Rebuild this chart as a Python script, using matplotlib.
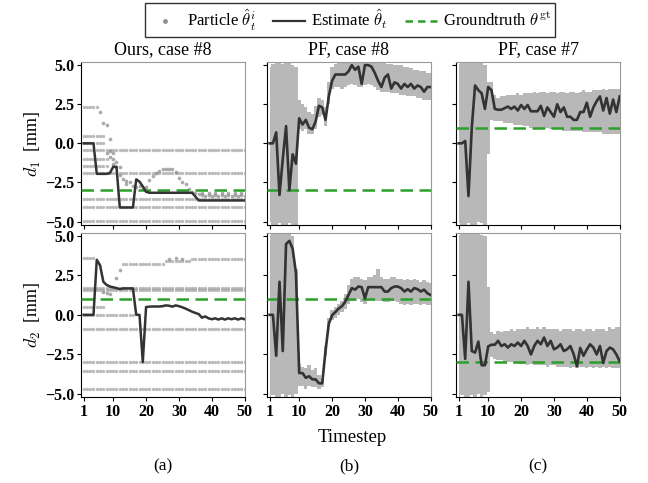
import numpy as np
import matplotlib
matplotlib.use("Agg")
import matplotlib.pyplot as plt
from matplotlib.lines import Line2D

plt.rcParams['font.family'] = ['Liberation Serif', 'DejaVu Serif']
plt.rcParams['mathtext.fontset'] = 'cm'

steps = np.arange(1, 51)

# ---- Ours, case #8: particle rows (value, first step, last step) ----
ours_d1_rows = [2.3, 0.48, 0.05, -0.45, -1.0, -1.48, -1.92, -3.55, -4.1, -4.98]
ours_d1_row_start = [1, 1, 1, 1, 1, 1, 1, 1, 1, 1]
ours_d1_row_end = [5, 7, 7, 50, 8, 8, 50, 50, 50, 50]
# particles that move over time
ours_d1_move_x = [6, 7, 8, 9, 8, 9, 10, 9, 10, 11, 10, 11, 12, 12, 13, 14, 14, 15, 16,
                  17, 18, 19, 20, 21, 22, 23, 24, 25, 26, 27, 28, 29, 30, 31, 32, 33,
                  34, 35, 36, 37, 38, 39, 40, 41, 42, 43, 44, 45, 46, 47, 48, 49, 50,
                  37, 39, 41, 43, 45, 47, 49]
ours_d1_move_y = [2.0, 1.32, 1.16, 0.28, -0.6, -0.5, -0.6, -0.9, -1.0, -1.2, -1.3, -1.5,
                  -1.5, -2.0, -2.3, -2.4, -2.6, -2.5, -2.7, -2.8, -2.7, -2.9, -2.8, -2.35,
                  -2.1, -1.9, -1.75, -1.65, -1.62, -1.62, -1.65, -1.8, -2.2, -2.5, -2.6,
                  -2.9, -3.1, -3.2, -3.25, -3.3, -3.35, -3.3, -3.35, -3.3, -3.35, -3.3,
                  -3.35, -3.3, -3.35, -3.3, -3.35, -3.3, -3.35,
                  -3.2, -3.2, -3.2, -3.2, -3.2, -3.2, -3.2]
ours_d1_est = [0.0, 0.0, 0.0, 0.0, -1.95, -1.95, -1.95, -1.95, -1.9, -1.5,
               -1.5, -4.1, -4.1, -4.1, -4.1, -4.1, -2.3, -2.45, -2.75, -3.1,
               -3.16, -3.16, -3.16, -3.16, -3.16, -3.16, -3.16, -3.16, -3.16, -3.16,
               -3.16, -3.16, -3.16, -3.16, -3.4, -3.65, -3.65, -3.65, -3.65, -3.65,
               -3.65, -3.65, -3.65, -3.65, -3.65, -3.65, -3.65, -3.65, -3.65, -3.65]

ours_d2_rows = [3.62, 3.22, 3.42, 3.52, 1.72, 1.58, 0.52, 0.0, -0.87, -3.0, -3.58, -4.68]
ours_d2_row_start = [1, 13, 26, 34, 1, 1, 1, 1, 1, 1, 1, 1]
ours_d2_row_end = [4, 25, 33, 50, 50, 50, 7, 16, 50, 50, 50, 50]
ours_d2_move_x = [7, 8, 9, 11, 12, 27, 29, 31]
ours_d2_move_y = [1.45, 1.4, 1.35, 2.35, 2.85, 3.55, 3.6, 3.55]
ours_d2_est = [0.0, 0.0, 0.0, 0.0, 3.5, 3.15, 2.1, 1.9, 1.8, 1.75,
               1.7, 1.63, 1.68, 1.68, 1.68, 1.68, 0.0, 0.0, -3.0, 0.5,
               0.52, 0.53, 0.53, 0.53, 0.55, 0.6, 0.58, 0.52, 0.6, 0.55,
               0.48, 0.4, 0.3, 0.2, 0.12, 0.05, -0.18, -0.1, -0.22, -0.28,
               -0.22, -0.3, -0.22, -0.3, -0.22, -0.28, -0.22, -0.3, -0.22, -0.28]

# ---- PF, case #8 ----
pf8_d1_est = [0.0, 0.0, 0.7, -3.3, -1.0, 1.1, -3.0, -0.7, -1.3, 1.6,
              1.2, 1.5, 1.0, 0.9, 1.4, 2.4, 2.3, 1.5, 3.0, 4.0,
              4.4, 4.4, 4.4, 4.4, 4.6, 5.0, 4.7, 4.9, 3.8, 5.0,
              5.0, 4.9, 4.5, 4.0, 3.6, 4.2, 4.4, 3.5, 3.9, 3.8,
              3.5, 3.8, 3.6, 3.8, 3.5, 3.7, 3.6, 3.3, 3.6, 3.6]
pf8_d1_low = [-5.0, -5.2, -5.2, -5.1, -5.2, -5.2, -5.1, -5.2, -5.2, 0.9,
              0.8, 0.9, 0.6, 0.6, 0.9, 1.7, 1.8, 1.1, 2.5, 3.5,
              3.6, 3.6, 3.5, 3.6, 3.7, 3.8, 3.7, 3.6, 3.6, 3.7,
              3.8, 3.7, 3.6, 3.4, 3.3, 3.3, 3.3, 3.2, 3.2, 3.2,
              3.1, 3.1, 3.0, 3.0, 3.0, 2.9, 2.9, 2.8, 2.8, 2.8]
pf8_d1_high = [4.9, 5.1, 5.2, 5.2, 5.1, 5.2, 5.2, 5.0, 4.9, 2.8,
               2.5, 2.3, 2.0, 1.9, 2.4, 2.9, 2.8, 2.3, 3.9, 4.9,
               5.1, 5.2, 5.2, 5.2, 5.2, 5.2, 5.2, 5.2, 5.2, 5.2,
               5.2, 5.2, 5.2, 5.2, 5.2, 5.2, 5.1, 5.1, 5.0, 5.0,
               5.0, 4.9, 4.9, 4.8, 4.7, 4.7, 4.6, 4.6, 4.5, 4.5]

pf8_d2_est = [0.0, 0.0, -2.6, 2.1, -2.3, 4.5, 4.7, 4.2, 2.67, -3.7,
              -3.7, -4.0, -3.9, -4.1, -4.1, -4.35, -4.35, -2.3, -0.57, -0.03,
              0.18, 0.4, 0.55, 0.83, 1.26, 1.7, 1.6, 1.8, 1.76, 1.05,
              1.76, 1.76, 1.76, 1.76, 1.76, 1.48, 1.48, 1.7, 1.8, 1.8,
              1.7, 1.48, 1.63, 1.48, 1.7, 1.63, 1.48, 1.6, 1.37, 1.26]
pf8_d2_low = [-5.2, -5.1, -5.2, -5.2, -5.0, -5.2, -5.1, -5.2, -5.0, -4.5,
              -4.5, -4.7, -4.5, -4.6, -4.6, -4.7, -4.6, -2.6, -0.8, -0.3,
              -0.2, 0.0, 0.2, 0.4, 0.7, 0.9, 0.9, 1.0, 0.8, 0.7,
              0.9, 1.0, 0.9, 0.9, 0.9, 0.8, 0.8, 0.9, 0.9, 0.8,
              0.7, 0.6, 0.7, 0.6, 0.7, 0.7, 0.6, 0.7, 0.6, 0.6]
pf8_d2_high = [5.1, 5.2, 5.2, 5.2, 5.2, 5.2, 5.2, 5.0, 2.9, -3.1,
               -3.3, -3.4, -3.2, -3.5, -3.4, -3.8, -4.1, -2.0, -0.2, 0.3,
               0.5, 0.7, 0.9, 1.3, 1.9, 2.3, 2.4, 2.4, 2.3, 2.2,
               2.4, 2.4, 2.5, 2.9, 2.4, 2.3, 2.3, 2.4, 2.4, 2.3,
               2.3, 2.2, 2.3, 2.2, 2.3, 2.2, 2.1, 2.2, 2.1, 2.0]

# ---- PF, case #7 ----
pf7_d1_est = [0.0, 0.0, 0.15, -3.37, 1.0, 3.7, 3.4, 3.2, 2.2, 3.6,
              3.4, 2.2, 2.15, 2.15, 2.25, 2.35, 2.2, 2.35, 2.1, 2.45,
              2.2, 2.45, 2.05, 2.05, 2.05, 2.4, 1.75, 2.3, 2.0, 1.7,
              2.5, 2.0, 2.3, 1.7, 1.7, 1.5, 1.5, 2.0, 2.0, 2.6,
              1.7, 2.3, 2.7, 3.0, 2.1, 2.9, 1.9, 2.8, 2.0, 3.0]
pf7_d1_low = [-5.1, -5.2, -5.2, -5.1, -5.2, -5.2, -5.0, -5.1, -5.2, -0.7,
              1.5, 1.4, 1.4, 1.4, 1.3, 1.3, 1.3, 1.2, 1.2, 1.2,
              1.1, 1.1, 1.0, 1.0, 1.0, 1.0, 0.9, 1.0, 0.9, 0.9,
              0.9, 0.9, 0.8, 0.8, 0.8, 0.8, 0.8, 0.8, 0.7, 0.7,
              0.7, 0.7, 0.7, 0.7, 0.6, 0.6, 0.6, 0.6, 0.6, 0.6]
pf7_d1_high = [5.1, 5.2, 5.2, 5.2, 5.2, 5.2, 5.2, 5.2, 5.0, 3.9,
               3.9, 3.1, 2.9, 3.0, 3.0, 3.1, 3.1, 3.1, 3.2, 3.1,
               3.2, 3.2, 3.2, 3.3, 3.2, 3.3, 3.3, 3.2, 3.3, 3.3,
               3.2, 3.3, 3.3, 3.2, 3.3, 3.3, 3.2, 3.3, 3.4, 3.3,
               3.3, 3.4, 3.4, 3.4, 3.5, 3.4, 3.5, 3.5, 3.5, 3.5]

pf7_d2_est = [0.0, 0.0, -2.8, 2.1, -2.3, -2.4, -1.7, -3.2, -3.2, -2.0,
              -1.9, -1.9, -1.65, -1.98, -1.87, -2.08, -1.87, -1.98, -1.76, -1.98,
              -1.65, -1.98, -2.52, -1.98, -1.65, -1.87, -1.44, -1.98, -1.65, -2.19,
              -2.08, -1.87, -2.3, -2.19, -1.98, -2.5, -3.27, -2.1, -2.6, -2.2,
              -1.87, -2.08, -2.52, -1.98, -3.06, -2.3, -2.08, -2.19, -2.52, -2.95]
pf7_d2_low = [-5.2, -5.1, -5.2, -5.2, -5.1, -5.2, -5.0, -5.2, -5.1, -4.9,
              -2.7, -2.8, -2.9, -2.9, -3.0, -3.0, -3.0, -3.1, -3.0, -3.1,
              -3.1, -3.2, -3.1, -3.2, -3.2, -3.2, -3.2, -3.3, -3.2, -3.2,
              -3.3, -3.3, -3.3, -3.3, -3.4, -3.3, -3.4, -3.3, -3.3, -3.4,
              -3.3, -3.4, -3.3, -3.4, -3.3, -3.4, -3.3, -3.4, -3.4, -3.4]
pf7_d2_high = [5.1, 5.2, 5.2, 5.2, 5.2, 5.2, 5.2, 5.1, 5.0, 1.8,
               -1.1, -1.2, -1.0, -1.1, -1.0, -1.0, -0.9, -1.0, -0.9, -0.9,
               -0.9, -0.8, -0.9, -0.9, -0.8, -0.9, -0.8, -0.9, -0.9, -0.9,
               -0.9, -1.0, -0.9, -0.9, -0.9, -1.0, -0.9, -0.9, -1.0, -0.9,
               -0.9, -1.0, -0.9, -0.9, -0.9, -1.0, -0.8, -0.9, -0.8, -0.8]

gt_values = [[-3.0, -3.0, 1.0], [1.0, 1.0, -3.0]]
titles = ['Ours, case #8', 'PF, case #8', 'PF, case #7']
sub_labels = ['(a)', '(b)', '(c)']
ylabels = [r'$d_1$  [mm]', r'$d_2$  [mm]']

est_color = '#333333'
part_color = '#8f8f8f'
cloud_color = '#b8b8b8'
gt_color = '#2ca02c'

W, H = 648, 483
fig = plt.figure(figsize=(W / 100, H / 100), dpi=100)

col_left = [81, 267, 456]
ax_w = 164
row_top = [62, 233]
row_bot = [225, 397]

axes = [[None] * 3 for _ in range(2)]
for r in range(2):
    for c in range(3):
        ax = fig.add_axes([col_left[c] / W, 1 - row_bot[r] / H,
                           ax_w / W, (row_bot[r] - row_top[r]) / H])
        axes[r][c] = ax


def draw_ours(ax, rows, rs, re, mx, my, est):
    for v, s, e in zip(rows, rs, re):
        xs = np.arange(s, e + 1)
        ax.scatter(xs, np.full(len(xs), v), s=6, color=part_color, alpha=0.6,
                   linewidths=0, zorder=2)
    ax.scatter(mx, my, s=7, color=part_color, alpha=0.75, linewidths=0, zorder=2)
    ax.plot(steps, est, color=est_color, lw=1.8, zorder=4)


def draw_pf(ax, low, high, est):
    ax.fill_between(steps, low, high, step='mid', color=cloud_color, lw=0, zorder=2)
    ax.plot(steps, est, color=est_color, lw=1.9, zorder=4)


draw_ours(axes[0][0], ours_d1_rows, ours_d1_row_start, ours_d1_row_end,
          ours_d1_move_x, ours_d1_move_y, ours_d1_est)
draw_ours(axes[1][0], ours_d2_rows, ours_d2_row_start, ours_d2_row_end,
          ours_d2_move_x, ours_d2_move_y, ours_d2_est)
draw_pf(axes[0][1], pf8_d1_low, pf8_d1_high, pf8_d1_est)
draw_pf(axes[1][1], pf8_d2_low, pf8_d2_high, pf8_d2_est)
draw_pf(axes[0][2], pf7_d1_low, pf7_d1_high, pf7_d1_est)
draw_pf(axes[1][2], pf7_d2_low, pf7_d2_high, pf7_d2_est)

for r in range(2):
    for c in range(3):
        ax = axes[r][c]
        ax.axhline(gt_values[r][c], color=gt_color, lw=1.8,
                   linestyle=(0, (5, 2.6)), zorder=3)
        ax.set_xlim(0.2, 50.1)
        ax.set_ylim(-5.22, 5.2)
        ax.set_xticks([1, 10, 20, 30, 40, 50])
        ax.set_yticks([-5, -2.5, 0, 2.5, 5])
        ax.tick_params(direction='out', length=3, width=0.8, labelsize=11.5, pad=2)
        ax.spines['left'].set_color('black')
        ax.spines['bottom'].set_color('black')
        ax.spines['top'].set_color('#999999')
        ax.spines['right'].set_color('#999999')
        if c == 0:
            ax.set_yticklabels(['\u22125.0', '\u22122.5', '0.0', '2.5', '5.0'],
                               fontweight='bold')
        else:
            ax.set_yticklabels([])
        if r == 0:
            ax.set_xticklabels([])
            ax.set_title(titles[c], fontsize=13, pad=6)
        else:
            ax.set_xticklabels(['1', '10', '20', '30', '40', '50'], fontweight='bold')

for r in range(2):
    yc = 1 - (row_top[r] + row_bot[r]) / 2 / H
    fig.text(33 / W, yc, ylabels[r], rotation=90, ha='center', va='center', fontsize=13)

fig.text(352 / W, 1 - 437 / H, 'Timestep', ha='center', va='center', fontsize=13.5)
for c in range(3):
    fig.text((col_left[c] + ax_w / 2) / W, 1 - 466 / H, sub_labels[c],
             ha='center', va='center', fontsize=12.5)

handles = [
    Line2D([], [], marker='o', markersize=2.5, color=part_color, lw=0),
    Line2D([], [], color=est_color, lw=1.6),
    Line2D([], [], color=gt_color, lw=1.8, linestyle=(0, (3, 2))),
]
labels = [r'Particle $\hat{\theta}_t^i$', r'Estimate $\hat{\theta}_t$',
          r'Groundtruth $\theta^{\rm gt}$']
leg = fig.legend(handles, labels, loc='upper center', bbox_to_anchor=(350 / W, 1.0),
                 ncol=3, fontsize=12, frameon=True, fancybox=False, edgecolor='black',
                 handlelength=1.9, handletextpad=0.4, columnspacing=1.0,
                 borderpad=0.25, borderaxespad=0.2)
leg.get_frame().set_linewidth(1.0)

fig.savefig('out.png', dpi=100)
